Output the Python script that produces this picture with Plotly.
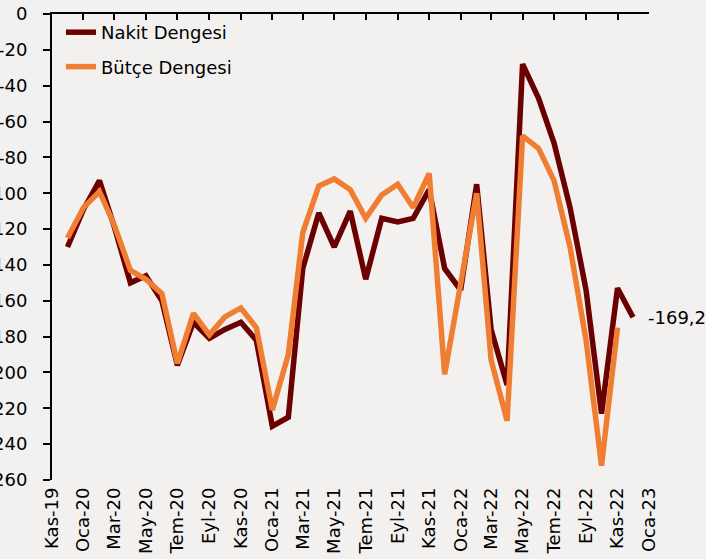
import plotly.graph_objects as go
import pandas as pd

# Months of data (Dec 2019 .. Dec 2022)
months_nakit = pd.date_range("2019-12-01", "2022-12-01", freq="MS")
months_butce = pd.date_range("2019-12-01", "2022-11-01", freq="MS")

nakit = [-130, -109, -93, -119, -150, -146, -160, -196, -172, -181, -176, -172,
         -182, -230, -225, -142, -111, -130, -110, -148, -114, -116, -114, -98,
         -142, -154, -95, -176, -207, -28, -47, -72, -108, -154, -223, -153, -169.2]

butce = [-125, -108, -99, -118, -143, -148, -156, -195, -167, -179, -169, -164,
         -175, -221, -190, -122, -96, -92, -98, -114, -101, -95, -108, -89,
         -201, -150, -100, -193, -227, -68, -75, -93, -130, -182, -252, -175]

x_tick_dates = pd.date_range("2019-11-01", "2023-01-01", freq="2MS")
x_tick_labels = ["Kas-19", "Oca-20", "Mar-20", "May-20", "Tem-20", "Eyl-20", "Kas-20",
                 "Oca-21", "Mar-21", "May-21", "Tem-21", "Eyl-21", "Kas-21",
                 "Oca-22", "Mar-22", "May-22", "Tem-22", "Eyl-22", "Kas-22", "Oca-23"]

y_tick_vals = list(range(-260, 1, 20))
y_tick_labels = [str(v) for v in y_tick_vals]

last_label = "-169,2"

DARK = "#6A0000"
ORANGE = "#F07E32"
BG = "#F3F1EF"
FONT = "DejaVu Sans"

fig = go.Figure()
fig.add_trace(go.Scatter(x=months_nakit, y=nakit, mode="lines", name="Nakit Dengesi",
                         line=dict(color=DARK, width=5.5), legendgroup="a",
                         xaxis="x", yaxis="y"))
fig.add_trace(go.Scatter(x=months_butce, y=butce, mode="lines", name="Bütçe Dengesi",
                         line=dict(color=ORANGE, width=5.5), legendgroup="b",
                         xaxis="x2", yaxis="y"))

xr = ["2019-11-01", "2023-01-01"]

fig.add_annotation(x=months_nakit[-1], y=nakit[-1], text=last_label, showarrow=False,
                   xanchor="left", yanchor="middle", xshift=13,
                   font=dict(family=FONT, size=18, color="black"))

fig.update_layout(
    width=706, height=559,
    margin=dict(l=52, r=57, t=14, b=79, autoexpand=False),
    paper_bgcolor=BG, plot_bgcolor=BG,
    font=dict(family=FONT, size=18, color="black"),
    showlegend=True,
    legend=dict(x=0.015, y=1.0, xanchor="left", yanchor="top",
                bgcolor="rgba(0,0,0,0)", traceorder="grouped", tracegroupgap=8,
                font=dict(family=FONT, size=18, color="black")),
    xaxis=dict(type="date", range=xr, tickvals=x_tick_dates, ticktext=x_tick_labels,
               tickangle=-90, ticks="", showline=False, showgrid=False, zeroline=False,
               automargin=False, ticklabelstandoff=3,
               tickfont=dict(family=FONT, size=18, color="black")),
    xaxis2=dict(type="date", range=xr, overlaying="x", side="top", anchor="y",
                tickvals=x_tick_dates, showticklabels=False, ticks="inside", ticklen=6,
                tickwidth=1.5, tickcolor="black", showline=True, linecolor="black",
                linewidth=2, showgrid=False, zeroline=False),
    yaxis=dict(range=[-260, 0], tickvals=y_tick_vals, ticktext=y_tick_labels,
               ticks="outside", ticklen=7, tickwidth=1.5, tickcolor="black",
               showline=True, linecolor="black", linewidth=2, showgrid=False,
               zeroline=False, automargin=False, ticklabelstandoff=12,
               tickfont=dict(family=FONT, size=18, color="black")),
)

fig.write_html("out.html", config={"displayModeBar": False},
               post_script="document.body.style.margin='0';document.body.style.overflow='hidden';")
